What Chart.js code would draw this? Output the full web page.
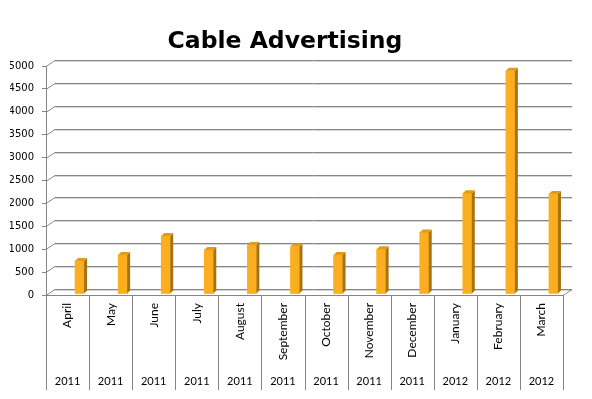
<!DOCTYPE html>
<html><head><meta charset="utf-8">
<script src="https://cdn.jsdelivr.net/npm/chart.js@4/dist/chart.umd.min.js"></script>
<style>html,body{margin:0;padding:0;background:#fff}#wrap{width:592px;height:399px}</style>
</head><body><div id="wrap"><canvas id="c" width="592" height="399"></canvas></div>
<script>
const titleText = "Cable Advertising";
const months = ["April","May","June","July","August","September","October","November","December","January","February","March"];
const years = ["2011","2011","2011","2011","2011","2011","2011","2011","2011","2012","2012","2012"];
const spending = [720, 850, 1265, 960, 1070, 1035, 850, 975, 1345, 2200, 4875, 2185];
const yMin = 0, yMax = 5000, yStep = 500;

const GRID = '#868686', GRID_LIGHT = '#d6d6d6';
const FRONT = '#FBAE1F', SIDE = '#A8730F', TOP = '#E29A17';
const DX = 9, DY = -6;          // back wall offset
const BAR_DX = 12, BAR_DY = -1, DEPTH = 3;

const excel3d = {
  id: 'excel3d',
  beforeDatasetsDraw(chart) {
    const {ctx, chartArea: a, scales: {y}} = chart;
    ctx.save();
    ctx.lineWidth = 1;
    const y0 = Math.round(y.getPixelForValue(0)) + 0.5;
    y.ticks.forEach(t => {
      const py = Math.round(y.getPixelForValue(t.value)) + 0.5;
      ctx.strokeStyle = GRID_LIGHT;
      ctx.beginPath(); ctx.moveTo(a.left + DX, py + DY + 1); ctx.lineTo(a.right + DX, py + DY + 1); ctx.stroke();
      ctx.strokeStyle = GRID;
      ctx.beginPath(); ctx.moveTo(a.left, py); ctx.lineTo(a.left + DX, py + DY); ctx.lineTo(a.right + DX, py + DY); ctx.stroke();
    });
    ctx.strokeStyle = GRID;
    ctx.beginPath(); ctx.moveTo(a.right, y0); ctx.lineTo(a.right + DX, y0 + DY); ctx.stroke();
    ctx.restore();
  },
  beforeDatasetDraw(chart) {
    chart.ctx.save();
    chart.ctx.translate(BAR_DX, BAR_DY);
  },
  afterDatasetDraw(chart, args) {
    const ctx = chart.ctx;
    args.meta.data.forEach(b => {
      const {x, y, base, width} = b.getProps(['x', 'y', 'base', 'width'], true);
      const l = x - width / 2, r = x + width / 2;
      ctx.fillStyle = SIDE;
      ctx.beginPath(); ctx.moveTo(r, y); ctx.lineTo(r + DEPTH, y - DEPTH); ctx.lineTo(r + DEPTH, base - DEPTH); ctx.lineTo(r, base); ctx.closePath(); ctx.fill();
      ctx.fillStyle = TOP;
      ctx.beginPath(); ctx.moveTo(l, y); ctx.lineTo(l + DEPTH, y - DEPTH); ctx.lineTo(r + DEPTH, y - DEPTH); ctx.lineTo(r, y); ctx.closePath(); ctx.fill();
    });
    ctx.restore();
  },
  afterDraw(chart) {
    const {ctx, chartArea: a} = chart;
    ctx.save();
    ctx.strokeStyle = GRID; ctx.lineWidth = 1;
    const n = months.length;
    for (let i = 0; i <= n; i++) {
      const px = Math.round(a.left + i * (a.right - a.left) / n) + 0.5;
      ctx.beginPath(); ctx.moveTo(px, a.bottom); ctx.lineTo(px, 390); ctx.stroke();
    }
    ctx.fillStyle = '#000';
    ctx.font = 'bold 23.5px "DejaVu Sans"';
    ctx.textAlign = 'center'; ctx.textBaseline = 'alphabetic';
    ctx.fillText(titleText, 285, 48);
    ctx.restore();
  }
};

new Chart(document.getElementById('c'), {
  type: 'bar',
  data: {
    labels: months,
    datasets: [{ data: spending, backgroundColor: FRONT, barThickness: 9, borderWidth: 0 }]
  },
  options: {
    responsive: false,
    animation: false,
    devicePixelRatio: 1,
    layout: { padding: { top: 66, left: 10, right: 29, bottom: 4 } },
    plugins: { legend: { display: false }, tooltip: { enabled: false }, title: { display: false } },
    scales: {
      x: {
        type: 'category', labels: months, offset: true,
        grid: { display: false, drawTicks: false },
        border: { display: true, color: GRID },
        ticks: { minRotation: 90, maxRotation: 90, autoSkip: false, padding: 8, color: '#000', font: { family: 'Lato', size: 12 } },
        afterFit(s) { s.height = 70; }
      },
      x2: {
        type: 'category', labels: years, position: 'bottom', offset: true, weight: 1,
        grid: { display: false, drawTicks: false },
        border: { display: false },
        ticks: { maxRotation: 0, autoSkip: false, padding: 10, color: '#000', font: { family: 'Lato', size: 11 } },
        afterFit(s) { s.height = 30; }
      },
      y: {
        min: yMin, max: yMax,
        ticks: { stepSize: yStep, padding: 8, color: '#000', font: { family: 'DejaVu Sans', size: 10 }, callback: v => String(v) },
        grid: { drawOnChartArea: false, drawTicks: true, tickLength: 4, color: GRID },
        border: { display: true, color: GRID },
        afterFit(s) { s.width = 36; }
      }
    }
  },
  plugins: [excel3d]
});
</script>
</body></html>
